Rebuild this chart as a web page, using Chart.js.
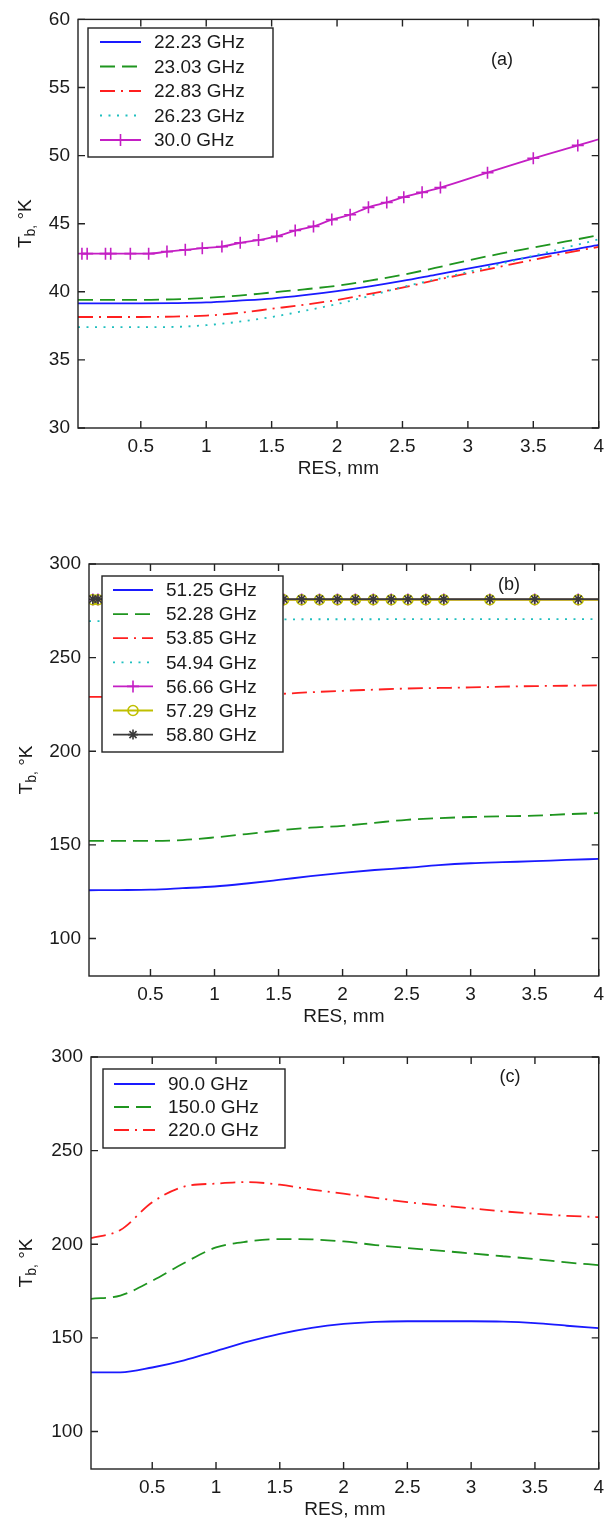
<!DOCTYPE html>
<html>
<head>
<meta charset="utf-8">
<script src="https://cdn.jsdelivr.net/npm/chart.js@4.4.1/dist/chart.umd.min.js"></script>
<style>
  html, body { margin: 0; padding: 0; background: #fff; }
  body { width: 611px; height: 1523px; position: relative; overflow: hidden; }
  canvas { position: absolute; left: 0; }
</style>
</head>
<body>
<canvas id="panelA" width="611" height="480" style="top:0px"></canvas>
<canvas id="panelB" width="611" height="488" style="top:540px"></canvas>
<canvas id="panelC" width="611" height="486" style="top:1035px"></canvas>
<script>
// RES values (mm) where the curves were read, and where the marked curves have markers
const resGrid = [0.02, 0.25, 0.5, 0.75, 1.0, 1.25, 1.5, 1.75, 2.0, 2.25, 2.5, 2.75, 3.0, 3.25, 3.5, 3.75, 4.0];
const resMarks = [0.05, 0.09, 0.23, 0.27, 0.42, 0.56, 0.70, 0.84, 0.97, 1.12, 1.26, 1.40, 1.54, 1.68, 1.82,
  1.96, 2.10, 2.24, 2.38, 2.51, 2.65, 2.79, 3.15, 3.50, 3.84, 4.0];
const xTicks = [0.5, 1, 1.5, 2, 2.5, 3, 3.5, 4];

// (a) 22-30 GHz
const labelsA = ['22.23 GHz', '23.03 GHz', '22.83 GHz', '26.23 GHz', '30.0 GHz'];
const tb2223 = [39.15, 39.15, 39.15, 39.17, 39.22, 39.35, 39.5, 39.75, 40.05, 40.4, 40.8, 41.25, 41.7, 42.15, 42.6, 43.0, 43.45];
const tb2303 = [39.4, 39.4, 39.4, 39.45, 39.55, 39.72, 39.95, 40.18, 40.45, 40.82, 41.25, 41.75, 42.3, 42.8, 43.25, 43.7, 44.15];
const tb2283 = [38.15, 38.15, 38.15, 38.18, 38.25, 38.45, 38.75, 39.05, 39.4, 39.85, 40.3, 40.85, 41.35, 41.85, 42.35, 42.85, 43.3];
const tb2623 = [37.4, 37.4, 37.4, 37.42, 37.55, 37.8, 38.15, 38.6, 39.1, 39.7, 40.35, 40.9, 41.45, 42.05, 42.65, 43.25, 43.85];
const tb3000 = [42.8, 42.8, 42.8, 42.8, 42.8, 42.8, 42.95, 43.08, 43.2, 43.32, 43.6, 43.8, 44.07, 44.5, 44.8,
  45.3, 45.66, 46.2, 46.56, 46.95, 47.3, 47.65, 48.75, 49.8, 50.75, 51.2];
const yTicksA = [30, 35, 40, 45, 50, 55, 60];

// (b) 51-59 GHz
const labelsB = ['51.25 GHz', '52.28 GHz', '53.85 GHz', '54.94 GHz', '56.66 GHz', '57.29 GHz', '58.80 GHz'];
const tb5125 = [125.8, 125.9, 126.1, 126.9, 127.8, 129.4, 131.3, 133.3, 135.1, 136.6, 137.8, 139.2, 140.2, 140.8, 141.3, 142.0, 142.5];
const tb5228 = [152.2, 152.2, 152.2, 152.6, 154.0, 155.8, 157.7, 159.2, 160.2, 161.8, 163.4, 164.3, 164.9, 165.3, 165.6, 166.4, 167.0];
const tb5385 = [229.0, 229.1, 229.3, 229.5, 229.8, 230.2, 230.6, 231.5, 232.3, 232.9, 233.5, 233.8, 234.1, 234.5, 234.8, 235.0, 235.2];
const tb5494 = [269.5, 269.6, 269.7, 269.8, 270.0, 270.2, 270.4, 270.5, 270.5, 270.5, 270.6, 270.6, 270.6, 270.6, 270.6, 270.6, 270.6];
const tb5666 = [281.0, 281.0, 281.0, 281.0, 281.0, 281.0, 281.0, 281.0, 281.0, 281.0, 281.0, 281.0, 281.0,
  281.0, 281.0, 281.0, 281.0, 281.0, 281.0, 281.0, 281.0, 281.0, 281.0, 281.0, 281.0, 281.0];
const tb5729 = [280.9, 280.9, 280.9, 280.9, 280.9, 280.9, 280.9, 280.9, 280.9, 280.9, 280.9, 280.9, 280.9,
  280.9, 280.9, 280.9, 280.9, 280.9, 280.9, 280.9, 280.9, 280.9, 280.9, 280.9, 280.9, 280.9];
const tb5880 = [281.2, 281.2, 281.2, 281.2, 281.2, 281.2, 281.2, 281.2, 281.2, 281.2, 281.2, 281.2, 281.2,
  281.2, 281.2, 281.2, 281.2, 281.2, 281.2, 281.2, 281.2, 281.2, 281.2, 281.2, 281.2, 281.2];
const yTicksB = [100, 150, 200, 250, 300];

// (c) 90-220 GHz
const labelsC = ['90.0 GHz', '150.0 GHz', '220.0 GHz'];
const tb9000 = [131.6, 131.6, 134.2, 138.0, 143.0, 148.0, 152.2, 155.4, 157.5, 158.6, 158.9, 158.9, 158.9, 158.7, 157.9, 156.5, 155.2];
const tb15000 = [170.8, 172.6, 180.5, 190.0, 198.3, 201.5, 202.8, 202.6, 201.5, 199.6, 198.0, 196.6, 195.1, 193.6, 192.1, 190.3, 188.9];
const tb22000 = [203.3, 207.6, 222.4, 230.8, 232.4, 233.2, 231.8, 229.2, 227.0, 224.8, 222.5, 220.8, 219.2, 217.6, 216.3, 215.2, 214.5];
const yTicksC = [100, 150, 200, 250, 300];

const FAMILY = "'Liberation Sans', Arial, sans-serif";
const TEXT = '#1a1a1a';
const font = { family: FAMILY, size: 19 };

const BLUE = '#1a1aff', GREEN = '#1f951f', RED = '#ff1f1f', CYAN = '#1fbfbf',
  MAGENTA = '#c41fc4', YELLOW = '#bfbf00', BLACK = '#3a3a3a';
const DASH = [15, 7], DASHDOT = [15, 6, 2, 6], DOT = [2, 6.5];

function curve(label, xs, ys, color, dash) {
  return {
    label,
    data: xs.map((x, i) => ({ x, y: ys[i] })),
    borderColor: color,
    borderWidth: 1.8,
    borderDash: dash,
    pointRadius: 0,
    pointHoverRadius: 0,
    fill: false,
    cubicInterpolationMode: 'monotone'
  };
}

function marked(label, xs, ys, color, style, r) {
  const ds = curve(label, xs, ys, color, []);
  ds.pointStyle = style;
  ds.pointRadius = (c) => (c.dataIndex === xs.length - 1 ? 0 : r);
  ds.pointBorderColor = color;
  ds.pointBackgroundColor = 'rgba(0,0,0,0)';
  ds.pointBorderWidth = 1.6;
  ds.markerRadius = r;
  return ds;
}

// frame with inward ticks, legend box, panel tag and the T_b axis title
const panelPlugin = {
  id: 'panel',
  afterDatasetsDraw(chart, args, opts) {
    const { ctx, chartArea: a, scales: { x, y } } = chart;
    ctx.save();
    ctx.strokeStyle = '#222';
    ctx.lineWidth = 1.4;
    ctx.setLineDash([]);
    ctx.strokeRect(a.left, a.top, a.right - a.left, a.bottom - a.top);
    ctx.beginPath();
    x.ticks.forEach((t) => {
      const px = x.getPixelForValue(t.value);
      ctx.moveTo(px, a.bottom); ctx.lineTo(px, a.bottom - 7);
      ctx.moveTo(px, a.top); ctx.lineTo(px, a.top + 7);
    });
    y.ticks.forEach((t) => {
      const py = y.getPixelForValue(t.value);
      ctx.moveTo(a.left, py); ctx.lineTo(a.left + 7, py);
      ctx.moveTo(a.right, py); ctx.lineTo(a.right - 7, py);
    });
    ctx.stroke();

    // legend
    const lg = opts.legend;
    ctx.fillStyle = '#fff';
    ctx.fillRect(lg.x, lg.y, lg.w, lg.h);
    ctx.strokeStyle = '#222';
    ctx.lineWidth = 1.4;
    ctx.strokeRect(lg.x, lg.y, lg.w, lg.h);
    chart.data.datasets.forEach((ds, i) => {
      const ry = lg.row0 + i * lg.rowStep;
      ctx.save();
      ctx.strokeStyle = ds.borderColor;
      ctx.lineWidth = ds.borderWidth;
      ctx.setLineDash(ds.borderDash || []);
      ctx.beginPath();
      ctx.moveTo(lg.s0, ry);
      ctx.lineTo(lg.s1, ry);
      ctx.stroke();
      ctx.setLineDash([]);
      if (ds.pointStyle) {
        ctx.strokeStyle = ds.pointBorderColor;
        ctx.fillStyle = ds.pointBackgroundColor;
        ctx.lineWidth = ds.pointBorderWidth;
        Chart.helpers.drawPoint(ctx, {
          pointStyle: ds.pointStyle, radius: ds.markerRadius, borderWidth: ds.pointBorderWidth, rotation: 0
        }, (lg.s0 + lg.s1) / 2, ry);
      }
      ctx.restore();
      ctx.fillStyle = TEXT;
      ctx.font = `19px ${FAMILY}`;
      ctx.textAlign = 'left';
      ctx.textBaseline = 'middle';
      ctx.fillText(ds.label, lg.tx, ry + 1);
    });

    // panel tag
    ctx.fillStyle = TEXT;
    ctx.font = `18px ${FAMILY}`;
    ctx.textAlign = 'center';
    ctx.textBaseline = 'middle';
    ctx.fillText(opts.tag.text, opts.tag.x, opts.tag.y);

    // y title: T_b, °K
    ctx.translate(opts.titleX, (a.top + a.bottom) / 2);
    ctx.rotate(-Math.PI / 2);
    const parts = [['T', 19, 0], ['b,', 14, 5], [' °K', 19, 0]];
    let total = 0;
    parts.forEach((p) => { ctx.font = `${p[1]}px ${FAMILY}`; total += ctx.measureText(p[0]).width; });
    let cx = -total / 2;
    ctx.textAlign = 'left';
    parts.forEach((p) => {
      ctx.font = `${p[1]}px ${FAMILY}`;
      ctx.fillText(p[0], cx, p[2]);
      cx += ctx.measureText(p[0]).width;
    });
    ctx.restore();
  }
};

function makePanel(id, datasets, yMin, yMax, yTicks, lay) {
  datasets.forEach((ds, i) => { ds.order = -i; });
  return new Chart(document.getElementById(id), {
    type: 'line',
    data: { datasets },
    options: {
      responsive: false,
      animation: false,
      events: [],
      layout: { padding: { top: lay.top, right: lay.right, left: 0, bottom: 0 } },
      plugins: {
        legend: { display: false },
        tooltip: { enabled: false },
        panel: lay
      },
      scales: {
        x: {
          type: 'linear',
          min: 0.02,
          max: 4,
          afterBuildTicks: (s) => { s.ticks = xTicks.map((v) => ({ value: v })); },
          afterFit: (s) => { s.height = 52; },
          grid: { display: false, drawTicks: false },
          border: { display: false },
          ticks: { padding: 7, color: TEXT, font, maxRotation: 0, autoSkip: false, callback: (v) => String(v) },
          title: { display: true, text: 'RES, mm', color: TEXT, font, padding: 0 }
        },
        y: {
          type: 'linear',
          min: yMin,
          max: yMax,
          afterBuildTicks: (s) => { s.ticks = yTicks.map((v) => ({ value: v })); },
          afterFit: (s) => { s.width = lay.left; },
          grid: { display: false, drawTicks: false },
          border: { display: false },
          ticks: { padding: 8, color: TEXT, font, autoSkip: false, callback: (v) => String(v) }
        }
      }
    },
    plugins: [panelPlugin]
  });
}

makePanel('panelA', [
  curve(labelsA[0], resGrid, tb2223, BLUE, []),
  curve(labelsA[1], resGrid, tb2303, GREEN, DASH),
  curve(labelsA[2], resGrid, tb2283, RED, DASHDOT),
  curve(labelsA[3], resGrid, tb2623, CYAN, DOT),
  marked(labelsA[4], resMarks, tb3000, MAGENTA, 'cross', 6)
], 30, 60, yTicksA, {
  top: 18, right: 12, left: 78, titleX: 26,
  legend: { x: 88, y: 28, w: 185, h: 129, row0: 42, rowStep: 24.5, s0: 100, s1: 141, tx: 154 },
  tag: { text: '(a)', x: 502, y: 60 }
});

makePanel('panelB', [
  curve(labelsB[0], resGrid, tb5125, BLUE, []),
  curve(labelsB[1], resGrid, tb5228, GREEN, DASH),
  curve(labelsB[2], resGrid, tb5385, RED, DASHDOT),
  curve(labelsB[3], resGrid, tb5494, CYAN, DOT),
  marked(labelsB[4], resMarks, tb5666, MAGENTA, 'cross', 6),
  marked(labelsB[5], resMarks, tb5729, YELLOW, 'circle', 5),
  marked(labelsB[6], resMarks, tb5880, BLACK, 'star', 5)
], 80, 300, yTicksB, {
  top: 24, right: 11, left: 89, titleX: 27,
  legend: { x: 102, y: 36, w: 181, h: 176, row0: 50, rowStep: 24.1, s0: 113, s1: 153, tx: 166 },
  tag: { text: '(b)', x: 509, y: 45 }
});

makePanel('panelC', [
  curve(labelsC[0], resGrid, tb9000, BLUE, []),
  curve(labelsC[1], resGrid, tb15000, GREEN, DASH),
  curve(labelsC[2], resGrid, tb22000, RED, DASHDOT)
], 80, 300, yTicksC, {
  top: 22, right: 10, left: 91, titleX: 27,
  legend: { x: 103, y: 34, w: 182, h: 79, row0: 49, rowStep: 23, s0: 114, s1: 155, tx: 168 },
  tag: { text: '(c)', x: 510, y: 42 }
});
</script>
</body>
</html>
